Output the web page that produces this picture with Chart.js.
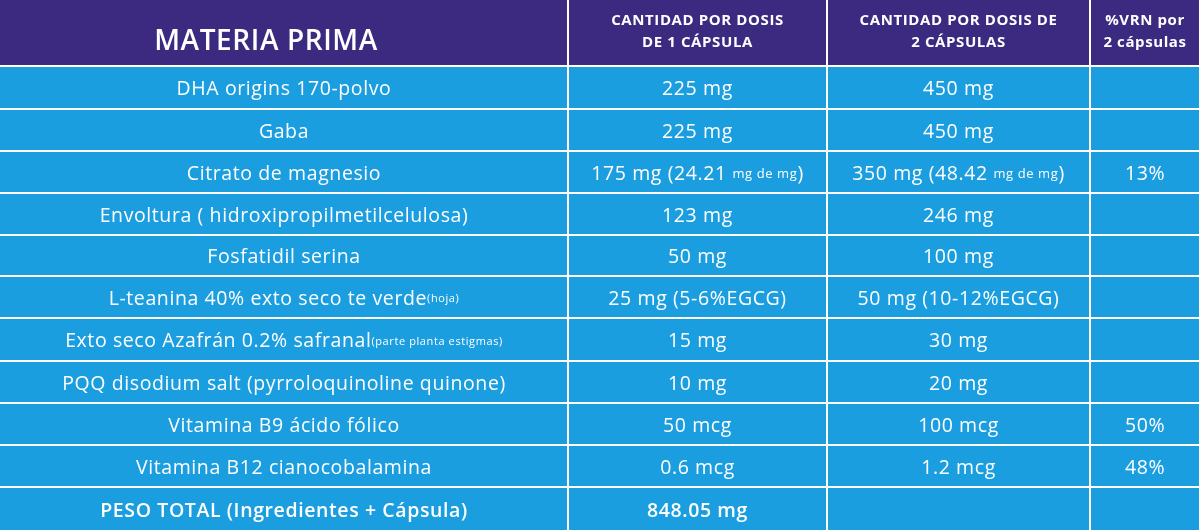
<!DOCTYPE html>
<html><head><meta charset="utf-8">
<script src="https://cdn.jsdelivr.net/npm/chart.js@4"></script>
<style>html,body{margin:0;padding:0;background:#fff}canvas{display:block}</style>
</head><body>
<canvas id="c" width="1200" height="531"></canvas>
<script>
const headers = ["MATERIA PRIMA", "CANTIDAD POR DOSIS\nDE 1 CÁPSULA", "CANTIDAD POR DOSIS DE\n2 CÁPSULAS", "%VRN por\n2 cápsulas"];
const ingredients = ["DHA origins 170-polvo","Gaba","Citrato de magnesio","Envoltura ( hidroxipropilmetilcelulosa)","Fosfatidil serina","L-teanina 40% exto seco te verde|(hoja)|","Exto seco Azafrán 0.2% safranal|(parte planta estigmas)|","PQQ disodium salt (pyrroloquinoline quinone)","Vitamina B9 ácido fólico","Vitamina B12 cianocobalamina","PESO TOTAL (Ingredientes + Cápsula)"];
const dose1 = ["225 mg","225 mg","175 mg (24.21 |mg de mg|)","123 mg","50 mg","25 mg (5-6%EGCG)","15 mg","10 mg","50 mcg","0.6 mcg","848.05 mg"];
const dose2 = ["450 mg","450 mg","350 mg (48.42 |mg de mg|)","246 mg","100 mg","50 mg (10-12%EGCG)","30 mg","20 mg","100 mcg","1.2 mcg",""];
const vrn = ["","","13%","","","","","","50%","48%",""];
const colEdges = [0,568,827,1090,1200];
const rowEdges = [0,66,109,151,193,235,276,318,361,403,445,487,531];

const FONT = '"Open Sans", sans-serif';
function runs(ctx, txt, cx, cy, big, small, weight){
  const parts = txt.split("|");
  let w = 0;
  parts.forEach((p,i)=>{ctx.font=`${weight} ${i%2?small:big}px ${FONT}`; w+=ctx.measureText(p).width;});
  let x = cx - w/2;
  ctx.textAlign="left";
  parts.forEach((p,i)=>{ctx.font=`${weight} ${i%2?small:big}px ${FONT}`; ctx.fillText(p,x,cy); x+=ctx.measureText(p).width;});
}
const tablePlugin = {id:'table', afterDraw(chart){
  const ctx=chart.ctx, xs=chart.scales.x, ys=chart.scales.y;
  const X=v=>xs.getPixelForValue(v), Y=v=>ys.getPixelForValue(v);
  ctx.save();
  ctx.fillStyle="#fff"; ctx.fillRect(0,0,chart.width,chart.height);
  for(let r=0;r<rowEdges.length-1;r++){
    for(let c=0;c<colEdges.length-1;c++){
      ctx.fillStyle = r===0 ? "#3b2a80" : "#1b9ee0";
      const x0=X(colEdges[c])+(c?1:0), x1=X(colEdges[c+1])-1, y0=Y(rowEdges[r])+(r?1:0), y1=Y(rowEdges[r+1])-1;
      ctx.fillRect(x0,y0,x1-x0,y1-y0);
    }
  }
  ctx.fillStyle="#fff"; ctx.textBaseline="middle";
  ctx.letterSpacing="0.6px";
  const hy=(Y(rowEdges[0])+Y(rowEdges[1]))/2;
  ctx.font=`600 28px ${FONT}`; ctx.textAlign="center";
  ctx.fillText(headers[0],(X(colEdges[0])+X(colEdges[1]))/2-18,hy+9);
  for(let c=1;c<4;c++){
    const lines=headers[c].split("\n");
    ctx.font=`700 15px ${FONT}`;
    lines.forEach((l,i)=>ctx.fillText(l,(X(colEdges[c])+X(colEdges[c+1]))/2,hy-12+i*22));
  }
  const cols=[ingredients,dose1,dose2,vrn];
  for(let r=0;r<ingredients.length;r++){
    const cy=(Y(rowEdges[r+1])+Y(rowEdges[r+2]))/2+2;
    const last = r===ingredients.length-1;
    cols.forEach((arr,c)=>{
      if(!arr[r]) return;
      runs(ctx,arr[r],(X(colEdges[c])+X(colEdges[c+1]))/2,cy,19.5,c===0?11:13,last?600:500);
    });
  }
  ctx.restore();
}};
new Chart(document.getElementById('c'),{
  type:'scatter',
  data:{datasets:[{data:[]}]},
  options:{responsive:false,animation:false,devicePixelRatio:1,
    layout:{padding:0},
    plugins:{legend:{display:false},tooltip:{enabled:false}},
    scales:{x:{type:'linear',min:0,max:1200,display:false},
            y:{type:'linear',min:0,max:531,reverse:true,display:false}}},
  plugins:[tablePlugin]
});
</script>
</body></html>
